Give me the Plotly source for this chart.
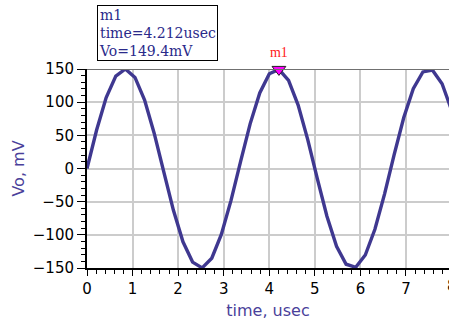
import plotly.graph_objects as go

# data
time_us = [0.0, 0.211, 0.421, 0.632, 0.842, 1.053, 1.264, 1.474, 1.685, 1.895,
           2.106, 2.317, 2.527, 2.738, 2.948, 3.159, 3.370, 3.580, 3.791, 4.001,
           4.212, 4.423, 4.633, 4.844, 5.054, 5.265, 5.476, 5.686, 5.897, 6.107,
           6.318, 6.529, 6.739, 6.950, 7.160, 7.371, 7.582, 7.792, 8.003]
vo_mv = [0.0, 58.0, 107.0, 139.3, 150.0, 137.3, 103.3, 53.2, -5.1, -62.7,
         -110.5, -141.1, -149.8, -135.2, -99.5, -48.4, 10.3, 67.3, 113.9, 142.8,
         149.4, 132.9, 95.6, 43.5, -15.4, -71.9, -117.2, -144.3, -148.9, -130.4,
         -91.6, -38.6, 20.5, 76.4, 120.3, 145.6, 148.2, 127.8, 87.5]
marker_t = [4.212]
marker_v = [149.4]
marker_name = "m1"
x_ticks = [0, 1, 2, 3, 4, 5, 6, 7]
y_ticks = [-150, -100, -50, 0, 50, 100, 150]

W, H = 449, 320
L, T, B = 87, 69, 52
x_max = (W - L) / 45.57  # visible part of the 0..8 axis
SANS = "DejaVu Sans"

fig = go.Figure()
fig.add_trace(go.Scatter(x=time_us, y=vo_mv, mode="lines",
                         line=dict(color="#3f3890", width=3.4), hoverinfo="skip"))
fig.add_trace(go.Scatter(x=marker_t, y=marker_v, mode="markers+text",
                         marker=dict(symbol="triangle-down", size=12, color="#ff00ff",
                                     line=dict(color="#202020", width=1)),
                         text=[marker_name], textposition="top center",
                         textfont=dict(family="Liberation Serif", size=14, color="#ff2020"),
                         cliponaxis=False, hoverinfo="skip"))

fig.update_layout(
    width=W, height=H, margin=dict(l=L, r=0, t=T, b=B),
    paper_bgcolor="white", plot_bgcolor="white", showlegend=False,
    font=dict(family=SANS, size=15, color="black"),
    xaxis=dict(range=[0, x_max], tickvals=x_ticks, ticks="outside", ticklen=6,
               tickcolor="black", showline=True, linecolor="black", linewidth=2,
               showgrid=True, gridcolor="#cccccc", gridwidth=2, zeroline=False,
               minor=dict(dtick=0.2, tick0=0, ticks="outside", ticklen=4,
                          tickcolor="black", showgrid=False),
               title=dict(text="time, usec", font=dict(color="#4a3f9a", size=16), standoff=12)),
    yaxis=dict(range=[-150, 150], tickvals=y_ticks, ticks="outside", ticklen=8,
               tickcolor="black", showline=True, linecolor="black", linewidth=2,
               showgrid=True, gridcolor="#cccccc", gridwidth=2, zeroline=False,
               minor=dict(dtick=10, tick0=0, ticks="outside", ticklen=4,
                          tickcolor="black", showgrid=False),
               title=dict(text="Vo, mV", font=dict(color="#4a3f9a", size=16), standoff=4)),
)
# top border line at 150
fig.add_shape(type="line", xref="paper", yref="y", x0=0, x1=1, y0=150, y1=150,
              line=dict(color="#707070", width=2))
# the cut-off "8" tick label
fig.add_annotation(xref="paper", yref="paper", x=8 / x_max, y=0, yshift=-7,
                   text="8", showarrow=False, xanchor="center", yanchor="top",
                   font=dict(family=SANS, size=15, color="black"))
# marker readout box
fig.add_annotation(xref="paper", yref="paper", x=(97 - L) / (W - L), y=1 + (T - 5) / (H - T - B),
                   xanchor="left", yanchor="top", showarrow=False, align="left",
                   text="m1<br>time=4.212usec<br>Vo=149.4mV",
                   font=dict(family="DejaVu Serif", size=14, color="#2a2a8a"),
                   bordercolor="black", borderwidth=1, borderpad=1, bgcolor="white")

fig.write_html("out.html")
